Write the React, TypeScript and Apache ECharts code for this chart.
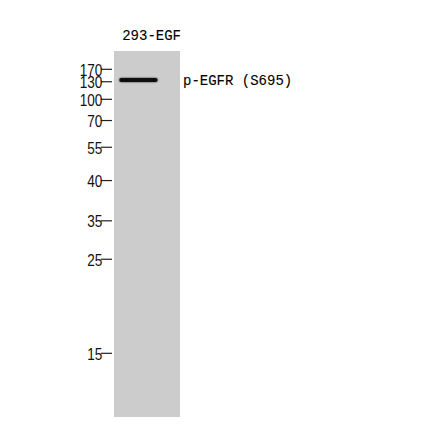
import * as React from "react";
import * as echarts from "echarts";
import { useEffect, useRef } from "react";

// lane and antibody names
const laneNames = ["293-EGF"];
const bandTarget = "p-EGFR (S695)";

// marker ladder (kDa) and relative migration (0 = top of lane, 1 = bottom)
const markerLabels = ["170", "130", "100", "70", "55", "40", "35", "25", "15"];
const markerRf = [0.05, 0.084, 0.132, 0.19, 0.263, 0.354, 0.464, 0.569, 0.826];

// detected band: lane index, start / end across the lane, relative migration
const bandLane = [0];
const bandStart = [0.08];
const bandEnd = [0.66];
const bandRf = [0.079];

const Blot = () => {
  const chartRef = useRef<HTMLDivElement>(null);

  useEffect(() => {
    if (!chartRef.current) return;
    const myChart = echarts.init(chartRef.current, null, { renderer: "svg" });

    const option = {
      animation: false,
      grid: { left: 114, top: 51, width: 66, height: 366 },
      xAxis: { type: "value", min: 0, max: 1, show: false },
      yAxis: { type: "value", min: 0, max: 1, inverse: true, show: false },
      series: [
        {
          // lane background with lane name on top
          type: "custom",
          data: laneNames.map((n, i) => [i, n]),
          renderItem: (params: any, api: any) => {
            const tl = api.coord([0, 0]);
            const br = api.coord([1, 1]);
            const mid = api.coord([0.57, 0]);
            return {
              type: "group",
              children: [
                {
                  type: "rect",
                  shape: { x: tl[0], y: tl[1], width: br[0] - tl[0], height: br[1] - tl[1] },
                  style: { fill: "#cccccc" },
                },
                {
                  type: "text",
                  x: mid[0],
                  y: mid[1] - 8,
                  style: {
                    text: laneNames[params.dataIndex],
                    font: "14px 'Liberation Mono', monospace",
                    fill: "#000",
                    stroke: "#000",
                    lineWidth: 0.1,
                    align: "center",
                    verticalAlign: "bottom",
                  },
                },
              ],
            };
          },
        },
        {
          // bands
          type: "custom",
          data: bandRf.map((rf, i) => [bandStart[i], bandEnd[i], rf, bandLane[i]]),
          renderItem: (params: any, api: any) => {
            const a = api.coord([api.value(0), api.value(2)]);
            const b = api.coord([api.value(1), api.value(2)]);
            const edge = api.coord([1, api.value(2)]);
            return {
              type: "group",
              children: [
                {
                  type: "rect",
                  shape: { x: a[0], y: a[1] - 2, width: b[0] - a[0], height: 4, r: 2 },
                  style: { fill: "#0d0d0d", shadowBlur: 2, shadowColor: "rgba(0,0,0,0.7)" },
                },
                {
                  type: "text",
                  x: edge[0] + 3,
                  y: edge[1] + 1,
                  style: {
                    text: bandTarget,
                    font: "14px 'Liberation Mono', monospace",
                    fill: "#000",
                    stroke: "#000",
                    lineWidth: 0.1,
                    align: "left",
                    verticalAlign: "middle",
                  },
                },
              ],
            };
          },
        },
        {
          // molecular weight markers
          type: "custom",
          data: markerRf.map((rf, i) => [rf, markerLabels[i]]),
          renderItem: (params: any, api: any) => {
            const p0 = api.coord([-0.2, api.value(0)]);
            const p1 = api.coord([-0.03, api.value(0)]);
            return {
              type: "group",
              children: [
                {
                  type: "line",
                  shape: { x1: p0[0], y1: p0[1], x2: p1[0], y2: p1[1] },
                  style: { stroke: "#222", lineWidth: 1.2 },
                },
                {
                  type: "text",
                  x: p0[0] + 1.5,
                  y: p0[1] + 0.5,
                  scaleX: 0.8,
                  style: {
                    text: markerLabels[params.dataIndex],
                    font: "17px 'Liberation Sans', sans-serif",
                    fill: "#111",
                    align: "right",
                    verticalAlign: "middle",
                  },
                },
              ],
            };
          },
        },
      ],
    };

    myChart.setOption(option as any, true, true);

    return () => {
      myChart.dispose();
    };
  }, []);

  return (
    <div
      ref={chartRef}
      style={{ position: "fixed", left: 0, top: 0, width: 440, height: 441, background: "#fff" }}
    />
  );
};

export default function App() {
  return <Blot />;
}
